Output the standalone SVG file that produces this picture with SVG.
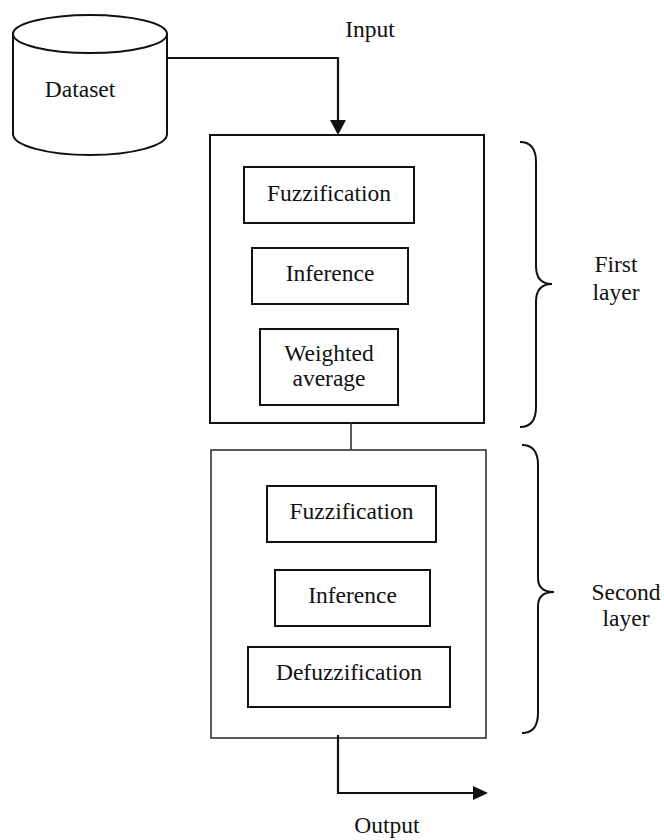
<svg xmlns="http://www.w3.org/2000/svg" width="664" height="840" viewBox="0 0 664 840">
<style>
text{font-family:"Liberation Serif","Times New Roman",serif;font-size:23.5px;fill:#111;text-anchor:middle}
.box{fill:#fff;stroke:#111;stroke-width:2}
.outer{fill:#fff;stroke:#111;stroke-width:2}
.outer2{fill:#fff;stroke:#333;stroke-width:1.6}
.line{fill:none;stroke:#111;stroke-width:2.2}
.thin{fill:none;stroke:#333;stroke-width:1.6}
.brace{fill:none;stroke:#111;stroke-width:2}
.head{fill:#111}
</style>
<rect width="664" height="840" fill="#fff"/>
<g id="dataset">
<path class="box" d="M13,34 L13,134 A77,21 0 0 0 167,134 L167,34"/>
<ellipse class="box" cx="90" cy="34" rx="77" ry="19"/>
<text x="80" y="97">Dataset</text>
</g>
<g id="layer1">
<rect class="outer" x="210" y="135" width="274" height="288"/>
</g>
<g id="fuzz1"><rect class="box" x="244" y="167" width="170" height="56"/><text x="329" y="201">Fuzzification</text></g>
<g id="inf1"><rect class="box" x="252" y="248" width="156" height="56"/><text x="330" y="281">Inference</text></g>
<g id="wavg"><rect class="box" x="260" y="329" width="138" height="76"/><text x="329" y="361">Weighted</text><text x="329" y="386">average</text></g>
<g id="layer2">
<rect class="outer2" x="211" y="450" width="275" height="288"/>
</g>
<g id="fuzz2"><rect class="box" x="267" y="486" width="169" height="56"/><text x="351.5" y="519">Fuzzification</text></g>
<g id="inf2"><rect class="box" x="275" y="570" width="155" height="56"/><text x="352.5" y="603">Inference</text></g>
<g id="defuzz"><rect class="box" x="248" y="647" width="202" height="60"/><text x="349" y="680">Defuzzification</text></g>
<g id="brace1">
<path class="brace" d="M520,142 C532,142 536,150 536,162 L536,266 C536,278 542,284 552,284 C542,284 536,290 536,302 L536,407 C536,419 532,427 520,427"/>
<text x="616" y="272">First</text><text x="616" y="300">layer</text>
</g>
<g id="brace2">
<path class="brace" d="M522,445 C534,445 538,453 538,465 L538,578 C538,588 544,592 554,592 C544,592 538,596 538,606 L538,713 C538,725 534,733 522,733"/>
<text x="626" y="600">Second</text><text x="626" y="626">layer</text>
</g>
<g id="connectors">
<polyline class="line" points="168,58 338,58 338,121"/>
<polygon class="head" points="330,120 346,120 338,135"/>
<line class="thin" x1="351" y1="423" x2="351" y2="450"/>
<polyline class="line" points="338,735 338,793 474,793"/>
<polygon class="head" points="473,786 473,800 488,793"/>
</g>
<g id="labels">
<text x="370" y="37">Input</text>
<text x="387" y="833">Output</text>
</g>
</svg>
